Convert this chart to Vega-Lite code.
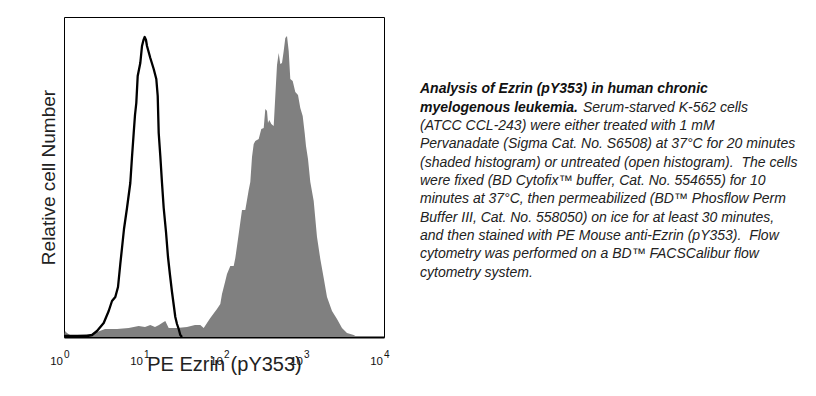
{
  "$schema": "https://vega.github.io/schema/vega-lite/v6.json",
  "background": "white",
  "padding": {"left": 38, "top": 16, "right": 0, "bottom": 0},
  "bounds": "flush",
  "spacing": 36,
  "config": {
    "font": "Liberation Sans",
    "view": {"stroke": "black", "strokeWidth": 1}
  },
  "datasets": {
    "shaded": [
      {"x": 1, "count": 0}, {"x": 1.029, "count": 6}, {"x": 1.09, "count": 4}, {"x": 1.189, "count": 2},
      {"x": 1.454, "count": 2}, {"x": 2.239, "count": 3}, {"x": 3.25, "count": 8}, {"x": 4.6, "count": 8},
      {"x": 6.44, "count": 9}, {"x": 8.58, "count": 11}, {"x": 10.29, "count": 10}, {"x": 11.99, "count": 12},
      {"x": 13.72, "count": 10}, {"x": 15.4, "count": 12}, {"x": 16.79, "count": 14}, {"x": 18.46, "count": 16},
      {"x": 20.36, "count": 9}, {"x": 25.85, "count": 9}, {"x": 34.47, "count": 10}, {"x": 43.4, "count": 12},
      {"x": 50.55, "count": 12}, {"x": 55.77, "count": 9}, {"x": 61.31, "count": 14}, {"x": 67.42, "count": 19},
      {"x": 74.99, "count": 24}, {"x": 81.75, "count": 28}, {"x": 89.9, "count": 33}, {"x": 94.4, "count": 43},
      {"x": 103.8, "count": 56}, {"x": 109.0, "count": 63}, {"x": 119.9, "count": 71}, {"x": 132.2, "count": 71},
      {"x": 138.5, "count": 79}, {"x": 152.7, "count": 103}, {"x": 167.9, "count": 127}, {"x": 184.6, "count": 127},
      {"x": 203.6, "count": 147}, {"x": 213.2, "count": 155}, {"x": 223.9, "count": 180}, {"x": 235.1, "count": 193},
      {"x": 246.2, "count": 196}, {"x": 271.5, "count": 198}, {"x": 292.6, "count": 208}, {"x": 313.6, "count": 209},
      {"x": 328.4, "count": 228}, {"x": 344.9, "count": 226}, {"x": 354.8, "count": 214}, {"x": 368.3, "count": 217},
      {"x": 390.2, "count": 213}, {"x": 418.1, "count": 211}, {"x": 437.8, "count": 241}, {"x": 459.8, "count": 272},
      {"x": 482.8, "count": 284}, {"x": 505.6, "count": 273}, {"x": 530.9, "count": 274}, {"x": 557.5, "count": 286},
      {"x": 583.8, "count": 299}, {"x": 613.1, "count": 301}, {"x": 643.8, "count": 286}, {"x": 674.2, "count": 258},
      {"x": 722.4, "count": 256}, {"x": 778.6, "count": 245}, {"x": 841.4, "count": 242}, {"x": 898.9, "count": 229},
      {"x": 963.2, "count": 221}, {"x": 1020, "count": 204}, {"x": 1059, "count": 191}, {"x": 1122, "count": 178},
      {"x": 1199, "count": 155}, {"x": 1322, "count": 136}, {"x": 1454, "count": 100}, {"x": 1599, "count": 78},
      {"x": 1763, "count": 59}, {"x": 1939, "count": 40}, {"x": 2239, "count": 26}, {"x": 2585, "count": 18},
      {"x": 2985, "count": 9}, {"x": 3447, "count": 4}, {"x": 4181, "count": 2}, {"x": 4600, "count": 0}
    ],
    "open": [
      {"x": 1, "count": 1}, {"x": 1.939, "count": 1}, {"x": 2.239, "count": 2}, {"x": 2.585, "count": 6},
      {"x": 3.135, "count": 14}, {"x": 3.621, "count": 26}, {"x": 3.981, "count": 36}, {"x": 4.378, "count": 40},
      {"x": 4.732, "count": 50}, {"x": 5.055, "count": 73}, {"x": 5.309, "count": 89}, {"x": 5.623, "count": 108},
      {"x": 6.131, "count": 129}, {"x": 6.743, "count": 154}, {"x": 7.079, "count": 180}, {"x": 7.434, "count": 204},
      {"x": 7.718, "count": 222}, {"x": 8.012, "count": 234}, {"x": 8.342, "count": 261}, {"x": 8.99, "count": 274},
      {"x": 9.441, "count": 291}, {"x": 9.857, "count": 297}, {"x": 10.2, "count": 300}, {"x": 10.59, "count": 297},
      {"x": 10.9, "count": 291}, {"x": 11.99, "count": 279}, {"x": 13.22, "count": 268}, {"x": 14.25, "count": 258},
      {"x": 14.84, "count": 241}, {"x": 15.27, "count": 204}, {"x": 15.99, "count": 181}, {"x": 16.79, "count": 154},
      {"x": 17.63, "count": 129}, {"x": 18.84, "count": 105}, {"x": 19.95, "count": 80}, {"x": 21.13, "count": 62},
      {"x": 22.39, "count": 45}, {"x": 23.71, "count": 30}, {"x": 24.62, "count": 20}, {"x": 25.85, "count": 13},
      {"x": 27.15, "count": 8}, {"x": 28.43, "count": 2}, {"x": 29.85, "count": 0}
    ],
    "ticklabels": [
      {"x": 1, "base": "10", "exp": "0"},
      {"x": 10, "base": "10", "exp": "1"},
      {"x": 100, "base": "10", "exp": "2"},
      {"x": 1000, "base": "10", "exp": "3"},
      {"x": 10000, "base": "10", "exp": "4"}
    ],
    "caption": [
      {"line": 1, "seg": "bold", "text": "Analysis of Ezrin (pY353) in human chronic"},
      {"line": 2, "seg": "bold", "text": "myelogenous leukemia."},
      {"line": 2, "seg": "tail", "text": "Serum-starved K-562 cells"},
      {"line": 3, "seg": "plain", "text": "(ATCC CCL-243) were either treated with 1 mM"},
      {"line": 4, "seg": "plain", "text": "Pervanadate (Sigma Cat. No. S6508) at 37°C for 20 minutes"},
      {"line": 5, "seg": "plain", "text": "(shaded histogram) or untreated (open histogram).\u00a0 The cells"},
      {"line": 6, "seg": "plain", "text": "were fixed (BD Cytofix™ buffer, Cat. No. 554655) for 10"},
      {"line": 7, "seg": "plain", "text": "minutes at 37°C, then permeabilized (BD™ Phosflow Perm"},
      {"line": 8, "seg": "plain", "text": "Buffer III, Cat. No. 558050) on ice for at least 30 minutes,"},
      {"line": 9, "seg": "plain", "text": "and then stained with PE Mouse anti-Ezrin (pY353).\u00a0 Flow"},
      {"line": 10, "seg": "plain", "text": "cytometry was performed on a BD™ FACSCalibur flow"},
      {"line": 11, "seg": "plain", "text": "cytometry system."}
    ]
  },
  "hconcat": [
    {
      "width": 320,
      "height": 320,
      "layer": [
        {
          "data": {"name": "shaded"},
          "mark": {"type": "area", "color": "#808080", "opacity": 1},
          "encoding": {
            "x": {
              "field": "x", "type": "quantitative",
              "scale": {"type": "log", "domain": [1, 10000], "nice": false},
              "axis": {
                "title": "PE Ezrin (pY353)",
                "values": [1, 10, 100, 1000, 10000],
                "labels": false,
                "ticks": false, "grid": false,
                "domainColor": "black", "domainWidth": 2,
                "titleFont": "Liberation Sans", "titleFontSize": 20, "titleFontWeight": "normal",
                "titleColor": "#222", "titleY": 17, "titleBaseline": "top"
              }
            },
            "y": {
              "field": "count", "type": "quantitative",
              "scale": {"domain": [0, 320], "nice": false},
              "axis": {
                "title": "Relative cell Number",
                "labels": false, "ticks": false, "grid": false, "domain": false,
                "titleFont": "Liberation Sans", "titleFontSize": 19, "titleFontWeight": "normal",
                "titleColor": "#222", "titleX": -10, "titleY": 160, "titleAngle": -90,
                "titleAlign": "center", "titleBaseline": "alphabetic"
              }
            }
          }
        },
        {
          "data": {"name": "open"},
          "mark": {"type": "line", "color": "black", "strokeWidth": 2.3, "strokeJoin": "round"},
          "encoding": {
            "x": {"field": "x", "type": "quantitative"},
            "y": {"field": "count", "type": "quantitative"}
          }
        },
        {
          "data": {"name": "ticklabels"},
          "mark": {"type": "text", "align": "right", "baseline": "alphabetic", "dx": -1, "dy": 28, "fontSize": 11.5, "fill": "#111111", "font": "Liberation Sans"},
          "encoding": {
            "x": {"field": "x", "type": "quantitative"},
            "y": {"datum": 0, "type": "quantitative"},
            "text": {"field": "base", "type": "nominal"}
          }
        },
        {
          "data": {"name": "ticklabels"},
          "mark": {"type": "text", "align": "left", "baseline": "alphabetic", "dx": 0, "dy": 21, "fontSize": 10, "fill": "#111111", "font": "Liberation Sans"},
          "encoding": {
            "x": {"field": "x", "type": "quantitative"},
            "y": {"datum": 0, "type": "quantitative"},
            "text": {"field": "exp", "type": "nominal"}
          }
        }
      ]
    },
    {
      "width": 380,
      "height": 320,
      "view": {"stroke": null},
      "data": {"name": "caption"},
      "encoding": {
        "y": {
          "field": "line", "type": "quantitative",
          "scale": {"domain": [-2.945, 14.509], "nice": false, "zero": false, "reverse": true},
          "axis": null
        },
        "x": {"value": 0},
        "text": {"field": "text"}
      },
      "layer": [
        {
          "transform": [{"filter": "datum.seg == 'bold'"}],
          "mark": {"type": "text", "align": "left", "baseline": "middle", "font": "Liberation Sans", "fontSize": 14, "fontStyle": "italic", "fontWeight": "bold", "color": "#111"}
        },
        {
          "transform": [{"filter": "datum.seg == 'plain'"}],
          "mark": {"type": "text", "align": "left", "baseline": "middle", "font": "Liberation Sans", "fontSize": 14, "fontStyle": "italic", "color": "#222"}
        },
        {
          "transform": [{"filter": "datum.seg == 'tail'"}],
          "mark": {"type": "text", "align": "left", "baseline": "middle", "dx": 163, "font": "Liberation Sans", "fontSize": 14, "fontStyle": "italic", "color": "#222"}
        }
      ]
    }
  ]
}
